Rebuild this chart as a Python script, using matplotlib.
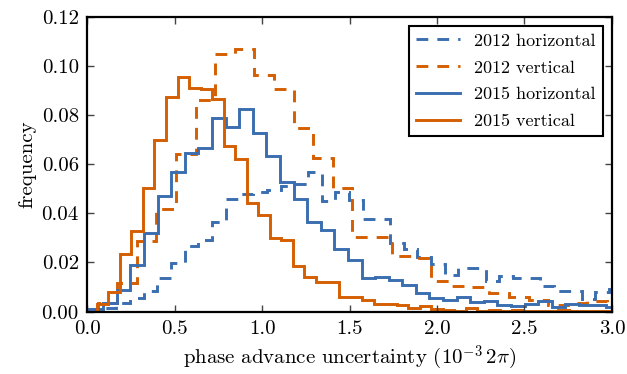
import numpy as np
import matplotlib
matplotlib.use("Agg")
from matplotlib import pyplot as plt
from matplotlib.ticker import FormatStrFormatter, MultipleLocator

plt.rcParams['font.family'] = 'serif'
plt.rcParams['font.serif'] = ['cmr10', 'DejaVu Serif']
plt.rcParams['mathtext.fontset'] = 'cm'
plt.rcParams['axes.formatter.use_mathtext'] = True
plt.rcParams['lines.scale_dashes'] = False

# histogram bins: (first edge, bin width) in units of 1e-3 2pi
h12_start, h12_width = 0.0109, 0.0782
v12_start, v12_width = 0.0600, 0.1120
h15_start, h15_width = 0.0143, 0.0777
v15_start, v15_width = 0.0554, 0.0659

h12 = [0.0012, 0.0014, 0.0034, 0.0054, 0.0084, 0.0136, 0.0197, 0.0267, 0.0290,
       0.0366, 0.0460, 0.0478, 0.0488, 0.0495, 0.0510, 0.0520, 0.0567, 0.0450,
       0.0488, 0.0455, 0.0377, 0.0377, 0.0278, 0.0254, 0.0221, 0.0194, 0.0149,
       0.0177, 0.0177, 0.0125, 0.0146, 0.0138, 0.0138, 0.0105, 0.0085, 0.0085,
       0.0052, 0.0081, 0.0091]
v12 = [0.0035, 0.0115, 0.0288, 0.0418, 0.0640, 0.0862, 0.1047, 0.1067, 0.0963,
       0.0906, 0.0746, 0.0624, 0.0502, 0.0305, 0.0305, 0.0228, 0.0217, 0.0126,
       0.0106, 0.0099, 0.0077, 0.0059, 0.0045, 0.0027, 0.0034, 0.0041, 0.0025]
h15 = [0.0012, 0.0035, 0.0088, 0.0190, 0.0319, 0.0472, 0.0567, 0.0647, 0.0665,
       0.0787, 0.0753, 0.0825, 0.0728, 0.0632, 0.0527, 0.0457, 0.0365, 0.0332,
       0.0254, 0.0208, 0.0138, 0.0142, 0.0129, 0.0109, 0.0075, 0.0054, 0.0045,
       0.0061, 0.0038, 0.0044, 0.0027, 0.0023, 0.0030, 0.0044, 0.0020, 0.0030,
       0.0025, 0.0027, 0.0020, 0.0025]
v15 = [0.0032, 0.0080, 0.0234, 0.0328, 0.0504, 0.0699, 0.0874, 0.0955, 0.0909,
       0.0905, 0.0865, 0.0674, 0.0621, 0.0441, 0.0393, 0.0301, 0.0292, 0.0187,
       0.0140, 0.0122, 0.0120, 0.0061, 0.0061, 0.0048, 0.0031, 0.0030, 0.0028,
       0.0016, 0.0023, 0.0012, 0.0007, 0.0003, 0.0014, 0.0003, 0.0005, 0.0003,
       0.0006, 0.0002, 0.0004, 0.0003, 0.0005, 0.0002, 0.0003, 0.0004, 0.0002,
       0.0003]

labels = ['2012 horizontal', '2012 vertical', '2015 horizontal', '2015 vertical']
blue = '#3a6eb1'
orange = '#d55e00'
dash = (0, (8.5, 6.5))
lw = 2.1


def edges(start, width, vals):
    return start + width * np.arange(len(vals) + 1)


fig = plt.figure(figsize=(6.27, 3.74), dpi=100)
ax = fig.add_axes([0.139, 0.167, 0.837, 0.788])

ax.stairs(h12, edges(h12_start, h12_width, h12), color=blue, lw=lw,
          linestyle=dash, label=labels[0])
ax.stairs(v12, edges(v12_start, v12_width, v12), color=orange, lw=lw,
          linestyle=dash, label=labels[1])
ax.stairs(h15, edges(h15_start, h15_width, h15), color=blue, lw=lw,
          label=labels[2])
ax.stairs(v15, edges(v15_start, v15_width, v15), color=orange, lw=lw,
          label=labels[3])

ax.set_xlim(0, 3)
ax.set_ylim(0, 0.12)
ax.xaxis.set_major_locator(MultipleLocator(0.5))
ax.yaxis.set_major_locator(MultipleLocator(0.02))
ax.xaxis.set_major_formatter(FormatStrFormatter('%.1f'))
ax.yaxis.set_major_formatter(FormatStrFormatter('%.2f'))
ax.tick_params(direction='in', top=True, right=True, length=5, width=1,
               color='#444444', labelsize=15, pad=6)
for s in ax.spines.values():
    s.set_linewidth(1.6)

ax.set_xlabel(r'phase advance uncertainty ($10^{-3}\,2\pi$)', fontsize=15)
ax.set_ylabel('frequency', fontsize=15)

leg = ax.legend(loc='upper right', fontsize=13, fancybox=False, framealpha=1,
                edgecolor='black', handlelength=2.4, borderaxespad=0.5,
                labelspacing=0.62)
leg.get_frame().set_linewidth(1.5)

fig.savefig('out.png', dpi=100)
